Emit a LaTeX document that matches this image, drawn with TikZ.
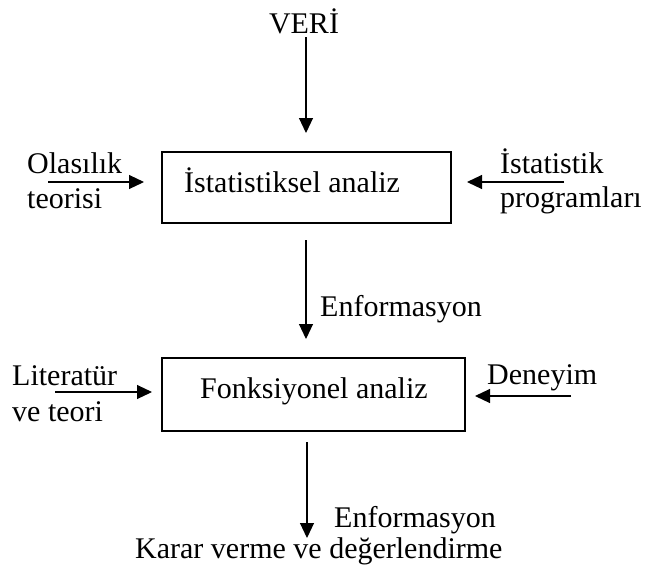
\documentclass[tikz,border=0pt]{standalone}
\usepackage{fontspec}
\setmainfont{Liberation Serif}
\usetikzlibrary{arrows.meta}
\begin{document}
\begin{tikzpicture}[x=1pt,y=1pt,
  txt/.style={inner sep=0pt, anchor=base west, font=\fontsize{30}{36}\selectfont},
  blockbox/.style={draw, line width=1.2pt, inner sep=0pt},
  flow/.style={line width=1.1pt, -{Triangle[length=15pt,width=14pt]}}]
\useasboundingbox (0,0) rectangle (647,-574);
% boxes
\node[blockbox, minimum width=289pt, minimum height=71pt] (box1) at (306.5,-187.5) {};
\node[blockbox, minimum width=303pt, minimum height=73pt] (box2) at (313.5,-394.5) {};
% texts
\node[txt, anchor=base] (veri) at (304,-33) {VERİ};
\node[txt] (t1) at (184,-192) {İstatistiksel analiz};
\node[txt] (t2) at (200,-398) {Fonksiyonel analiz};
\node[txt] (ola) at (27,-173) {Olasılık};
\node[txt] (teo) at (27,-208) {teorisi};
\node[txt] (ist) at (500,-173) {İstatistik};
\node[txt] (prog) at (500,-207) {programları};
\node[txt] (enf1) at (320,-316) {Enformasyon};
\node[txt] (lit) at (12,-385) {Literatür};
\node[txt] (vet) at (12,-421) {ve teori};
\node[txt] (den) at (487,-384) {Deneyim};
\node[txt] (enf2) at (334,-527) {Enformasyon};
\node[txt] (karar) at (135,-558) {Karar verme ve değerlendirme};
% connector ends
\coordinate (a1s) at (306,-37);   \coordinate (a1e) at (306,-133);
\coordinate (a2s) at (306,-240);  \coordinate (a2e) at (306,-339);
\coordinate (a3s) at (307,-442);  \coordinate (a3e) at (307,-538);
\coordinate (l1s) at (48,-182);   \coordinate (l1e) at (144,-182);
\coordinate (r1s) at (564,-182);  \coordinate (r1e) at (467,-182);
\coordinate (l2s) at (55,-392);   \coordinate (l2e) at (152,-392);
\coordinate (r2s) at (571,-396);  \coordinate (r2e) at (475,-396);
\draw[flow] (a1s) -- (a1e);
\draw[flow] (a2s) -- (a2e);
\draw[flow] (a3s) -- (a3e);
\draw[flow] (l1s) -- (l1e);
\draw[flow] (r1s) -- (r1e);
\draw[flow] (l2s) -- (l2e);
\draw[flow] (r2s) -- (r2e);
\end{tikzpicture}
\end{document}
